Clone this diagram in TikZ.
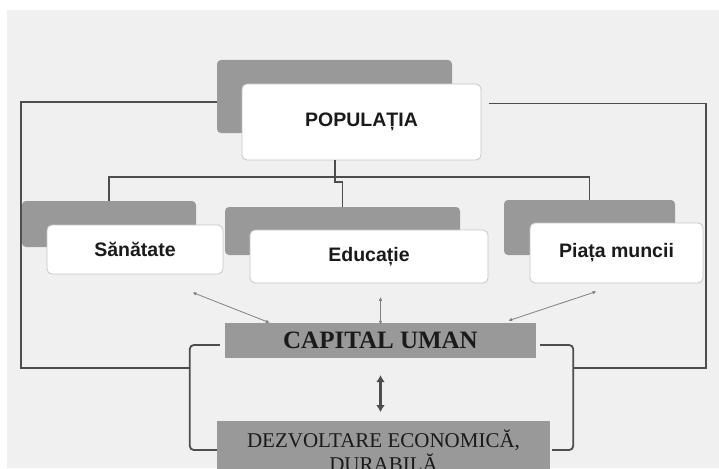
\documentclass[tikz,border=0pt]{standalone}
\usepackage{fontspec}
\setmainfont{Liberation Serif}
\setsansfont{Liberation Sans}
\usetikzlibrary{arrows.meta}
\definecolor{bgcol}{HTML}{F0F0F0}
\definecolor{boxgray}{HTML}{999999}
\definecolor{linecol}{HTML}{4D4D4D}
\definecolor{txtcol}{HTML}{1A1A1A}
\tikzset{
  backbox/.style={fill=boxgray, rounded corners=4pt, inner sep=0pt
  },
  frontbox/.style={
    draw=gray!45, fill=white, rounded corners=5pt, line width=0.8pt, inner sep=0pt,
    text=txtcol, font=\sffamily\bfseries\fontsize{19.5}{23}\selectfont
  },
  greybox/.style={
    fill=boxgray, inner sep=0pt, text=txtcol
  },
  link/.style={draw=linecol, line width=1.8pt},
  treelink/.style={draw=linecol, line width=1.4pt},
  tinyarrow/.style={
    draw=gray, line width=0.8pt, {Latex[length=4pt,width=3.5pt]}-{Latex[length=4pt,width=3.5pt]}
  },
  bigarrow/.style={
    draw=linecol, line width=3.5pt, {Latex[length=7pt,width=9pt]}-{Latex[length=7pt,width=9pt]}
  }
}

\begin{document}
\begin{tikzpicture}[x=1pt,y=-1pt]
 \useasboundingbox (0,0) rectangle (719,468);
 \clip (0,0) rectangle (719,468);
 \fill[white] (0,0) rectangle (719,468);
 \fill[bgcol] (7,10) rectangle (719,468);

 % boxes
 \node[backbox, minimum width=235, minimum height=73] (popback) at (334.5,96.5) {};
 \node[frontbox, minimum width=239, minimum height=76] (pop) at (361.5,122) {POPULAȚIA};
 \node[backbox, minimum width=174, minimum height=46] (sanback) at (109,224) {};
 \node[frontbox, minimum width=176, minimum height=49] (san) at (135,249.5) {Sănătate};
 \node[backbox, minimum width=235, minimum height=48] (eduback) at (342.5,231) {};
 \node[frontbox, minimum width=238, minimum height=53] (edu) at (369,256.5) {Educație};
 \node[backbox, minimum width=171, minimum height=55] (piaback) at (589.5,227.5) {};
 \node[frontbox, minimum width=173, minimum height=60] (pia) at (616.5,253) {Piața muncii};
 \node[greybox, minimum width=311, minimum height=35,
   font=\bfseries\fontsize{25}{28}\selectfont] (capital) at (380.5,340.5) {CAPITAL UMAN};
 \node[greybox, anchor=north, minimum width=333, minimum height=60, inner ysep=5pt,
   align=center, font=\fontsize{21}{24}\selectfont] (dezv) at (383.5,421)
   {DEZVOLTARE ECONOMICĂ,\\DURABILĂ};

 % tree
 \coordinate (hub) at (335,177);
 \draw[treelink] (pop.south -| hub) -- (hub);
 \draw[treelink] (sanback.north) -- (sanback.north |- hub) -- (piaback.north |- hub) -- (piaback.north);
 \draw[treelink] (hub) -- ++(0,5) -| (eduback.north);

 % loops and brackets
 \draw[link] ([yshift=-5.5pt]popback.west) -| (21,368) -- (190,368);
 \draw[link] ([xshift=8pt,yshift=-20pt]pop.north east) -| (706,368) -- (573,368);
 \draw[link, rounded corners=4pt] ([xshift=-5pt,yshift=-4.5pt]capital.west) -- ++(-30,0)
   |- ([yshift=-29pt]dezv.north west);
 \draw[link, rounded corners=4pt] ([xshift=4pt,yshift=-4.5pt]capital.east) -- ++(33,0)
   |- ([xshift=2pt,yshift=-29pt]dezv.north east);

 % arrows
 \draw[tinyarrow] ([shift={(-31,18)}]san.south east) -- ([xshift=45pt]capital.north west);
 \draw[tinyarrow] ([yshift=-2pt]capital.north) -- ++(0,-28);
 \draw[tinyarrow] ([shift={(67,8)}]pia.south west) -- ([shift={(-28,-2)}]capital.north east);
 \draw[bigarrow, shorten <=17pt, shorten >=9pt] (capital.south) -- (capital.south |- dezv.north);
\end{tikzpicture}
\end{document}
